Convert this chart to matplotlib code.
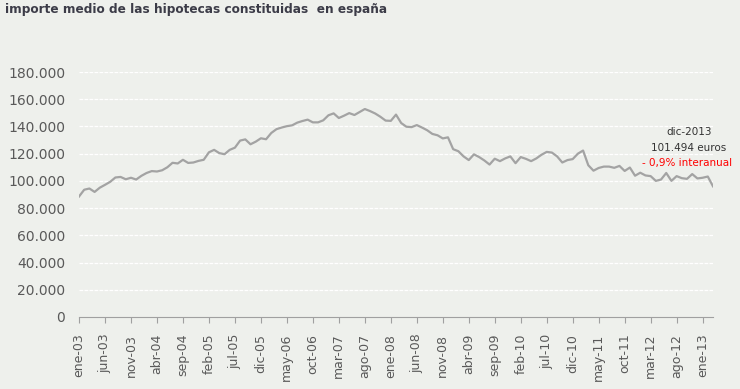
import numpy as np
from matplotlib import pyplot as plt

# importe medio mensual (miles de euros), ene-03 .. mar-13
importe = [
    88.5, 93.5, 94.4, 91.9, 95.0, 97.1, 99.3, 102.5, 102.9, 101.2,
    102.3, 101.0, 103.7, 105.8, 107.2, 106.9, 107.8, 110.0, 113.3, 112.8,
    115.5, 113.2, 113.5, 114.7, 115.5, 121.0, 122.8, 120.4, 119.6, 122.8,
    124.4, 129.6, 130.5, 126.9, 128.8, 131.3, 130.6, 135.2, 138.0, 139.2,
    140.2, 140.8, 142.8, 144.0, 145.0, 143.0, 143.0, 144.5, 148.2, 149.6,
    146.2, 147.9, 149.8, 148.4, 150.6, 152.8, 151.3, 149.5, 147.1, 144.3,
    144.1, 148.7, 142.5, 139.8, 139.5, 141.0, 139.2, 137.2, 134.5, 133.5,
    131.2, 132.0, 123.3, 121.8, 118.0, 115.3, 119.5, 117.5, 115.0, 112.0,
    116.3, 114.5, 116.5, 118.0, 113.0, 117.5, 116.2, 114.5, 116.5, 119.2,
    121.3, 120.8, 118.0, 113.5, 115.3, 116.0, 120.0, 122.3, 111.5, 107.5,
    109.5, 110.5, 110.5, 109.6, 111.0, 107.3, 109.8, 103.8, 106.0, 104.0,
    103.5, 100.0, 101.0, 105.8, 100.0, 103.5, 102.0, 101.5, 105.0, 101.8,
    102.3, 103.2, 96.0,
]
valores = np.array(importe) * 1000

etiquetas = ["ene-03", "jun-03", "nov-03", "abr-04", "sep-04", "feb-05", "jul-05",
             "dic-05", "may-06", "oct-06", "mar-07", "ago-07", "ene-08", "jun-08",
             "nov-08", "abr-09", "sep-09", "feb-10", "jul-10", "dic-10", "may-11",
             "oct-11", "mar-12", "ago-12", "ene-13"]
yticks = [0, 20000, 40000, 60000, 80000, 100000, 120000, 140000, 160000, 180000]

fondo = "#eef0ec"
gris_txt = "#595959"

fig = plt.figure(figsize=(7.4, 3.89), dpi=100, facecolor=fondo)
ax = fig.add_axes([79/740, 1-317/389, (713-79)/740, (317-72)/389])
ax.set_facecolor(fondo)

x = np.arange(len(valores))
ax.plot(x, valores, color="#a3a3a3", lw=1.6, solid_joinstyle="round")

ax.set_xlim(0, len(valores) - 1)
ax.set_ylim(0, 180000)

ax.set_yticks(yticks)
ax.set_yticklabels(["0" if v == 0 else f"{v:,}".replace(",", ".") for v in yticks],
                   fontsize=10, color=gris_txt)
ax.tick_params(axis="y", length=0, pad=10)
for v in yticks[1:]:
    ax.axhline(v, color="white", lw=0.9, ls=(0, (3, 1)), zorder=0)

ax.set_xticks(np.arange(0, len(valores), 5))
ax.set_xticklabels(etiquetas, rotation=90, fontsize=9, color=gris_txt)
ax.tick_params(axis="x", length=4, color="#a0a0a0", pad=8)

for s in ["top", "right", "left"]:
    ax.spines[s].set_visible(False)
ax.spines["bottom"].set_color("#a0a0a0")

# nota del ultimo dato
ax.text(117.4, 136000, "dic-2013", ha="center", va="center", fontsize=7.5, color="#333333")
ax.text(117.4, 124200, "101.494 euros", ha="center", va="center", fontsize=7.5, color="#333333")
ax.text(117.0, 113200, "- 0,9% interanual", ha="center", va="center", fontsize=7.5, color="red")

fig.text(5/740, 1-9/389, "importe medio de las hipotecas constituidas  en españa",
         ha="left", va="center", fontsize=8.7, fontweight="bold", color="#3c3c48")

fig.savefig("out.png", dpi=100, facecolor=fondo)
